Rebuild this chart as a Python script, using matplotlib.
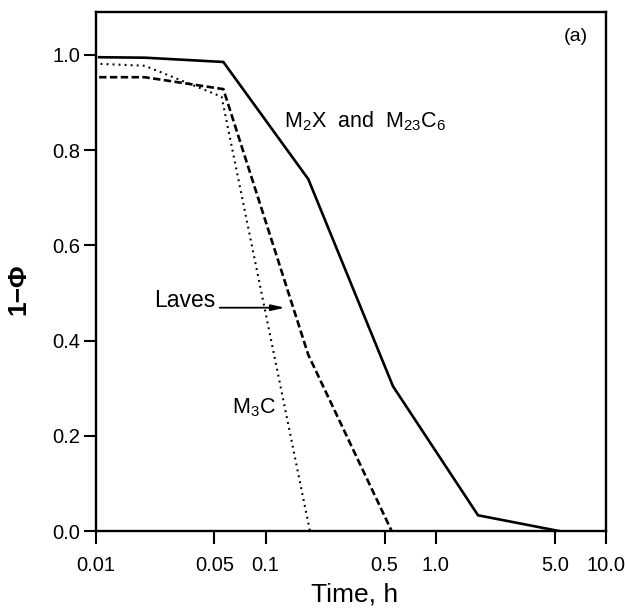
import matplotlib
matplotlib.use("Agg")
import matplotlib.pyplot as plt
from matplotlib.ticker import FixedLocator, FixedFormatter, NullLocator

# ---- data ----
time_m2x = [0.0105, 0.0195, 0.0564, 0.178, 0.56, 1.77, 5.3]
phi_m2x = [0.995, 0.994, 0.985, 0.739, 0.304, 0.033, 0.0]

time_laves = [0.0105, 0.0195, 0.0564, 0.178, 0.55]
phi_laves = [0.953, 0.953, 0.928, 0.37, 0.0]

time_m3c = [0.0107, 0.0195, 0.0551, 0.182]
phi_m3c = [0.981, 0.977, 0.912, 0.0]

xticks = [0.01, 0.05, 0.1, 0.5, 1.0, 5.0, 10.0]
xticklabels = ["0.01", "0.05", "0.1", "0.5", "1.0", "5.0", "10.0"]
yticks = [0.0, 0.2, 0.4, 0.6, 0.8, 1.0]
yticklabels = ["0.0", "0.2", "0.4", "0.6", "0.8", "1.0"]

plt.rcParams['font.family'] = ['Liberation Sans', 'DejaVu Sans']
plt.rcParams['mathtext.fontset'] = 'custom'
plt.rcParams['mathtext.rm'] = 'Liberation Sans'
plt.rcParams['mathtext.it'] = 'Liberation Sans'

fig = plt.figure(figsize=(6.25, 6.11), dpi=100)
ax = fig.add_axes([0.1528, 0.1309, 0.8168, 0.8495])

ax.plot(time_m2x, phi_m2x, color="black", lw=1.9, solid_joinstyle="miter")
ax.plot(time_laves, phi_laves, color="black", lw=1.9, linestyle=(0, (2.8, 1.3)))
ax.plot(time_m3c, phi_m3c, color="black", lw=1.5, linestyle=(0, (0.9, 2.0)))

ax.set_xscale("log")
ax.set_xlim(0.01, 10.0)
ax.set_ylim(0.0, 1.09)

ax.xaxis.set_major_locator(FixedLocator(xticks))
ax.xaxis.set_major_formatter(FixedFormatter(xticklabels))
ax.xaxis.set_minor_locator(NullLocator())
ax.yaxis.set_major_locator(FixedLocator(yticks))
ax.yaxis.set_major_formatter(FixedFormatter(yticklabels))

for s in ax.spines.values():
    s.set_linewidth(1.7)

ax.tick_params(axis="both", direction="out", length=9, width=1.5, labelsize=14.5)
ax.tick_params(axis="x", pad=9)
ax.tick_params(axis="y", pad=2)

ax.set_xlabel("Time, h", fontsize=19)
ax.xaxis.set_label_coords(0.508, -0.1)
ax.set_ylabel("1\u2212\u03a6", fontsize=19, fontweight="bold")
ax.yaxis.set_label_coords(-0.128, 0.466)

ax.text(0.129, 0.86, r"M$_2$X  and  M$_{23}$C$_6$", fontsize=15.5, ha="left", va="center")
ax.text(0.0222, 0.485, "Laves", fontsize=16.5, ha="left", va="center")
ax.annotate("", xy=(0.13, 0.469), xytext=(0.0537, 0.469),
            arrowprops=dict(arrowstyle="-|>,head_length=0.8,head_width=0.18",
                            color="black", lw=1.3, shrinkA=0, shrinkB=0))
ax.text(0.0638, 0.259, r"M$_3$C", fontsize=15.5, ha="left", va="center")
ax.text(0.965, 0.952, "(a)", fontsize=14, ha="right", va="center", transform=ax.transAxes)

fig.savefig("out.png", dpi=100)
